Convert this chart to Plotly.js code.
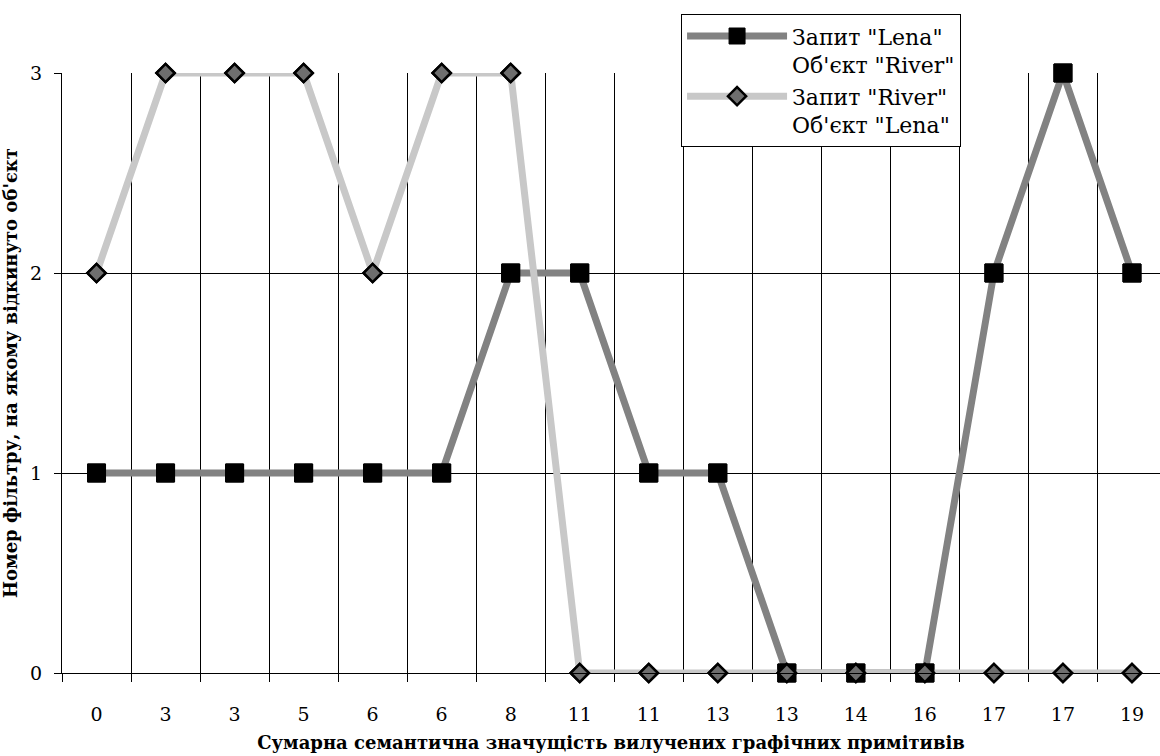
<!DOCTYPE html>
<html>
<head>
<meta charset="utf-8">
<script src="https://cdn.plot.ly/plotly-3.0.1.min.js"></script>
<style>html,body{margin:0;padding:0;background:#fff;}#chart{width:1160px;height:756px;}</style>
</head>
<body>
<div id="chart"></div>
<script>
const xLabels = ['0','3','3','5','6','6','8','11','11','13','13','14','16','17','17','19'];
const lenaValues = [1,1,1,1,1,1,2,2,1,1,0,0,0,2,3,2];
const riverValues = [2,3,3,3,2,3,3,0,0,0,0,0,0,0,0,0];
const yTicks = [0,1,2,3];
const yGrid = [1,2];
const seriesNames = ['Запит "Lena"<br>Об\'єкт "River"', 'Запит "River"<br>Об\'єкт "Lena"'];

const xIdx = xLabels.map((_, i) => i);
const boundaries = xLabels.map((_, i) => i - 0.5).concat([xLabels.length - 0.5]);
const FONT = 'DejaVu Serif';

const lenaLine = {color: '#828282', width: 7};
const riverLine = {color: '#c8c8c8', width: 7};
const lenaMarker = {symbol: 'square', size: 18, color: '#000000', line: {color: '#000000', width: 1}};
const riverMarker = {symbol: 'diamond', size: 14, color: '#6e6e6e', line: {color: '#000000', width: 2.5}};

const traces = [
  {x: xIdx, y: lenaValues, name: seriesNames[0], type: 'scatter', mode: 'lines+markers',
   line: lenaLine, marker: lenaMarker, cliponaxis: false, yaxis: 'y'},
  {x: xIdx, y: riverValues, name: seriesNames[1], type: 'scatter', mode: 'lines+markers',
   line: riverLine, marker: riverMarker, cliponaxis: false, yaxis: 'y2'},
  // markers drawn again above all lines (as in the original chart)
  {x: xIdx, y: lenaValues, type: 'scatter', mode: 'markers', showlegend: false,
   marker: lenaMarker, cliponaxis: false, yaxis: 'y2'},
  {x: xIdx, y: riverValues, type: 'scatter', mode: 'markers', showlegend: false,
   marker: riverMarker, cliponaxis: false, yaxis: 'y2'}
];

const layout = {
  width: 1160, height: 756,
  margin: {l: 62, r: 0, t: 73, b: 83},
  paper_bgcolor: '#ffffff', plot_bgcolor: '#ffffff',
  font: {family: FONT, color: '#000000'},
  showlegend: true,
  legend: {
    x: 0.5638, y: 1.098, xanchor: 'left', yanchor: 'top',
    bgcolor: '#ffffff', bordercolor: '#000000', borderwidth: 1,
    font: {family: FONT, size: 22, color: '#000000'},
    itemwidth: 100, valign: 'top', tracegroupgap: 0
  },
  xaxis: {
    range: [-0.5, 15.406],
    tickmode: 'array', tickvals: xIdx, ticktext: xLabels,
    ticks: '', showgrid: false, zeroline: false,
    showline: true, linecolor: '#000000', linewidth: 1,
    tickfont: {family: FONT, size: 19, color: '#000000'},
    ticklabelstandoff: 24,
    minor: {tickmode: 'array', tickvals: boundaries, showgrid: true, gridcolor: '#000000', gridwidth: 1,
            ticks: 'outside', ticklen: 8, tickcolor: '#000000', tickwidth: 1},
    title: {text: 'Сумарна семантична значущість вилучених графічних примітивів',
            font: {family: FONT, size: 18, color: '#000000', weight: 'bold'}, standoff: 12},
    fixedrange: true
  },
  yaxis: {
    range: [0, 3],
    tickmode: 'array', tickvals: yGrid, showticklabels: false, ticks: '',
    showgrid: true, gridcolor: '#000000', gridwidth: 1, zeroline: false, showline: false,
    fixedrange: true
  },
  yaxis2: {
    overlaying: 'y', side: 'left', range: [0, 3],
    tickmode: 'array', tickvals: yTicks, ticktext: yTicks.map(String),
    ticks: 'outside', ticklen: 7, tickcolor: '#000000', tickwidth: 1,
    showgrid: false, zeroline: false,
    showline: true, linecolor: '#000000', linewidth: 1,
    tickfont: {family: FONT, size: 19, color: '#000000'},
    ticklabelstandoff: 8,
    title: {text: 'Номер фільтру, на якому відкинуто об\'єкт',
            font: {family: FONT, size: 18, color: '#000000', weight: 'bold'}},
    fixedrange: true
  }
};

Plotly.newPlot('chart', traces, layout, {displayModeBar: false, staticPlot: true});
</script>
</body>
</html>
